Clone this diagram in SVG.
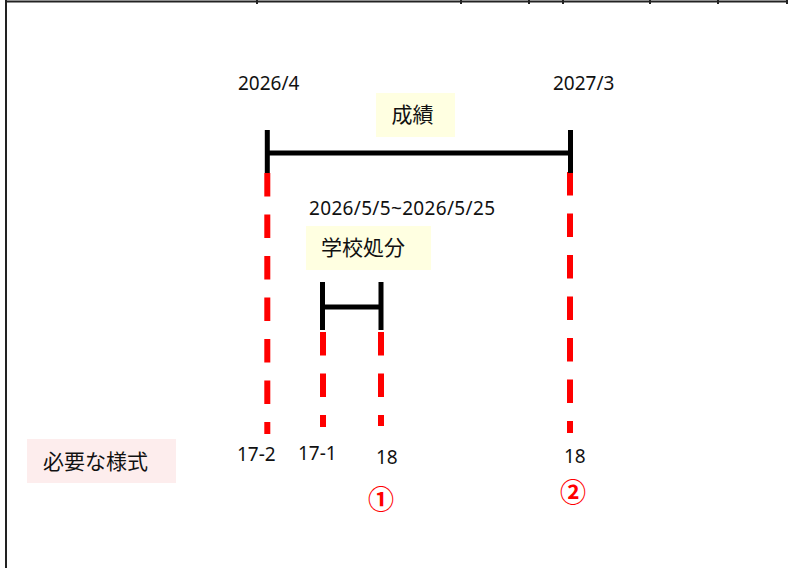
<svg xmlns="http://www.w3.org/2000/svg" width="796" height="568" viewBox="0 0 796 568">
<style>
.t{font-family:"Noto Sans","Liberation Sans",sans-serif;font-size:19px;fill:#111}
.j{font-family:"Noto Sans CJK JP","Noto Sans",sans-serif;font-size:21px;fill:#111}
.c{font-family:"Noto Sans CJK JP","Noto Sans",sans-serif;font-size:26px;font-weight:bold;fill:#ff0000;text-anchor:middle}
.bar{stroke:#000;stroke-width:5;fill:none}
.dash{stroke:#ff0000;stroke-width:6;stroke-dasharray:23.5 18;fill:none}
.frame{stroke:#222;stroke-width:2;fill:none}
</style>
<rect width="796" height="568" fill="#fff"/>
<g id="frame">
<path class="frame" d="M5 1.5H788M6 0V568"/>
<path class="frame" d="M257 0V4M461 0V4M529 0V4M563 0V4M650 0V4M718 0V4M787 0V4"/>
</g>
<g id="connectors">
<line class="dash" x1="267.3" y1="173" x2="267.3" y2="434"/>
<line class="dash" x1="570" y1="172" x2="570" y2="433"/>
<line class="dash" x1="323" y1="332" x2="323" y2="427"/>
<line class="dash" x1="381" y1="332" x2="381" y2="426"/>
</g>
<g id="seiseki-bar">
<path class="bar" d="M267.3 130V173M570.5 130V173M267.3 153H570.5"/>
</g>
<g id="shobun-bar">
<path class="bar" d="M322.5 282V330M381 282V330M322.5 307H381"/>
</g>
<g id="date-start"><text class="t" x="238" y="90">2026/4</text></g>
<g id="date-end"><text class="t" x="553" y="90">2027/3</text></g>
<g id="seiseki">
<rect x="376" y="93" width="79" height="44" fill="#ffffe1"/>
<text class="j" x="412.5" y="122" text-anchor="middle">成績</text>
</g>
<g id="date-range"><text class="t" x="309" y="215" textLength="186">2026/5/5~2026/5/25</text></g>
<g id="shobun">
<rect x="306" y="226" width="125" height="44" fill="#ffffe1"/>
<text class="j" x="321" y="255">学校処分</text>
</g>
<g id="youshiki">
<rect x="27" y="439" width="149" height="44" fill="#fdeded"/>
<text class="j" x="43" y="469">必要な様式</text>
</g>
<g id="label-17-2"><text class="t" x="237" y="461">17-2</text></g>
<g id="label-17-1"><text class="t" x="298" y="460">17-1</text></g>
<g id="label-18a"><text class="t" x="376" y="464">18</text></g>
<g id="label-18b"><text class="t" x="564" y="463">18</text></g>
<g id="mark-1"><text class="c" x="381" y="509">①</text></g>
<g id="mark-2"><text class="c" x="573" y="502">②</text></g>
</svg>
